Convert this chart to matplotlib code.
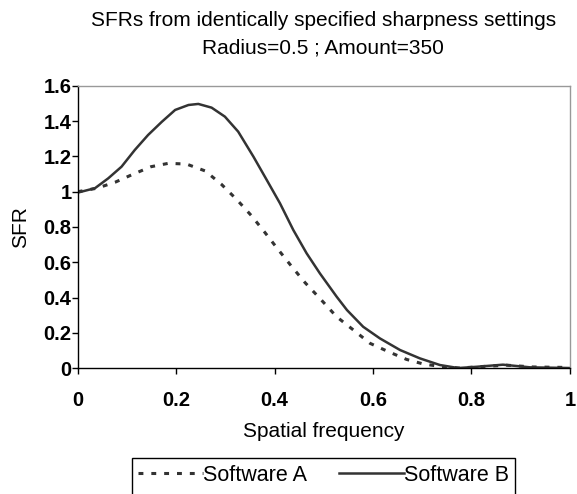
import matplotlib
matplotlib.use("Agg")
import matplotlib.pyplot as plt
import matplotlib.patches as patch

plt.rcParams["font.family"] = ["Liberation Sans", "DejaVu Sans"]

# Software A (dashed)
freq_a = [0.0, 0.039, 0.076, 0.113, 0.149, 0.184, 0.221, 0.259, 0.292, 0.324,
          0.353, 0.38, 0.407, 0.435, 0.462, 0.492, 0.526, 0.56, 0.594, 0.631,
          0.668, 0.702, 0.739, 0.777, 0.818, 0.872, 0.925, 1.0]
sfr_a = [1.0, 1.02, 1.054, 1.10, 1.142, 1.161, 1.157, 1.118, 1.042, 0.953,
         0.864, 0.77, 0.673, 0.575, 0.484, 0.395, 0.291, 0.216, 0.14, 0.093,
         0.049, 0.023, 0.008, 0.0, 0.008, 0.016, 0.006, 0.003]

# Software B (solid)
freq_b = [0.0, 0.035, 0.062, 0.089, 0.116, 0.143, 0.171, 0.198, 0.225, 0.245,
          0.272, 0.299, 0.326, 0.357, 0.384, 0.411, 0.438, 0.465, 0.492, 0.526,
          0.547, 0.58, 0.614, 0.655, 0.695, 0.736, 0.773, 0.81, 0.864, 0.919,
          1.0]
sfr_b = [0.995, 1.02, 1.076, 1.142, 1.237, 1.322, 1.397, 1.464, 1.492, 1.498,
         1.477, 1.426, 1.341, 1.199, 1.067, 0.934, 0.783, 0.651, 0.537, 0.405,
         0.329, 0.234, 0.168, 0.102, 0.055, 0.017, 0.0, 0.007, 0.019, 0.004,
         0.0]

x_ticks = [0, 0.2, 0.4, 0.6, 0.8, 1]
y_ticks = [0, 0.2, 0.4, 0.6, 0.8, 1, 1.2, 1.4, 1.6]

line_color = "#333333"

fig = plt.figure(figsize=(5.77, 4.94), dpi=100)
ax = fig.add_axes([0.1347, 0.255, 0.853, 0.571])

ax.plot(freq_a, sfr_a, color=line_color, linewidth=2.2, dashes=(1.6, 2.6),
        label="Software A")
ax.plot(freq_b, sfr_b, color=line_color, linewidth=1.8, label="Software B")

ax.set_xlim(0, 1)
ax.set_ylim(0, 1.6)
ax.set_xticks(x_ticks)
ax.set_xticklabels(["0", "0.2", "0.4", "0.6", "0.8", "1"])
ax.set_yticks(y_ticks)
ax.set_yticklabels(["0", "0.2", "0.4", "0.6", "0.8", "1", "1.2", "1.4", "1.6"])
ax.tick_params(direction="out", length=4.5, width=1, labelsize=14.5)
for lbl in ax.get_xticklabels() + ax.get_yticklabels():
    lbl.set_fontweight("bold")
ax.tick_params(axis="x", pad=12)
ax.tick_params(axis="y", pad=0)

ax.spines["left"].set_color("black")
ax.spines["bottom"].set_color("black")
ax.spines["top"].set_color("#999999")
ax.spines["right"].set_color("#999999")
for s in ax.spines.values():
    s.set_linewidth(1)

ax.set_xlabel("Spatial frequency", fontsize=15, labelpad=9)
ax.set_ylabel("SFR", fontsize=15, labelpad=10)

fig.text(0.56, 0.978, "SFRs from identically specified sharpness settings\nRadius=0.5 ; Amount=350",
         ha="center", va="top", fontsize=15, linespacing=1.6)

leg = fig.legend(loc="upper center", bbox_to_anchor=(0.561, 0.072), ncol=2,
                 fontsize=15.5, frameon=False, handlelength=3.0,
                 handletextpad=0.0, columnspacing=1.5, borderpad=0.3,
                 borderaxespad=0)

# legend box runs off the bottom edge, like the original
fig.canvas.draw()
bb = leg.get_window_extent()
W, H = fig.get_size_inches() * fig.dpi
box = patch.Rectangle((bb.x0 / W, -0.05), bb.width / W, bb.y1 / H + 0.05,
                      transform=fig.transFigure, fill=False,
                      edgecolor="black", linewidth=1)
fig.patches.append(box)

fig.savefig("out.png", dpi=100)
